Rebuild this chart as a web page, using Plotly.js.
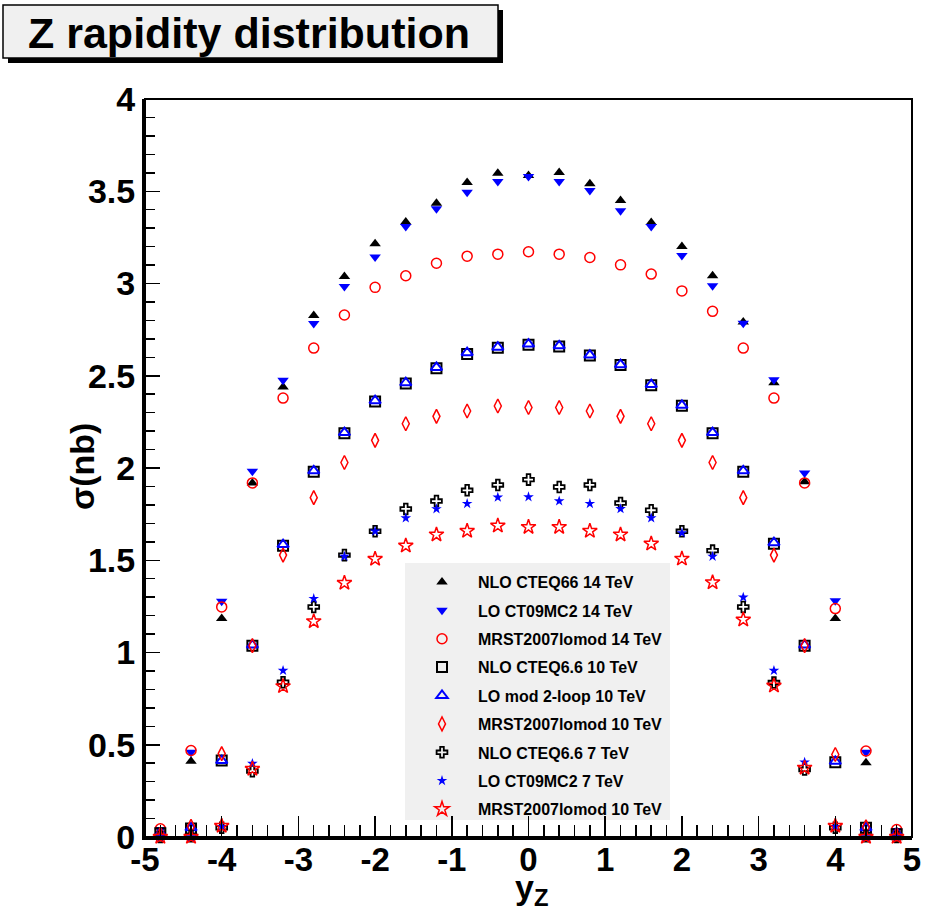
<!DOCTYPE html>
<html>
<head>
<meta charset="utf-8">
<script src="https://cdn.plot.ly/plotly-3.0.1.min.js"></script>
<style>html,body{margin:0;padding:0;background:#fff;}#chart{width:928px;height:917px;}</style>
</head>
<body>
<div id="chart"></div>
<script>
// ---- data ----
const yRapidity = [-4.8,-4.4,-4.0,-3.6,-3.2,-2.8,-2.4,-2.0,-1.6,-1.2,-0.8,-0.4,0,0.4,0.8,1.2,1.6,2.0,2.4,2.8,3.2,3.6,4.0,4.4,4.8];

const nloCteq66_14 = [0.03,0.41,1.184,1.919,2.439,2.827,3.038,3.215,3.333,3.435,3.547,3.598,3.585,3.602,3.540,3.450,3.331,3.201,3.042,2.791,2.462,1.926,1.184,0.402,0.03];
const loCt09mc2_14 = [0.04,0.46,1.278,1.982,2.475,2.783,2.984,3.143,3.309,3.405,3.495,3.553,3.580,3.553,3.504,3.394,3.309,3.152,2.988,2.785,2.478,1.973,1.281,0.46,0.035];
const mrst_14      = [0.045,0.469,1.247,1.919,2.379,2.650,2.829,2.979,3.042,3.110,3.148,3.159,3.172,3.159,3.141,3.101,3.051,2.960,2.849,2.650,2.379,1.919,1.238,0.466,0.04];
const nloCteq66_10 = [0.02,0.046,0.414,1.037,1.579,1.980,2.189,2.361,2.458,2.540,2.618,2.652,2.668,2.659,2.610,2.558,2.449,2.337,2.189,1.980,1.590,1.037,0.405,0.05,0.015];
const loMod2loop_10= [0.02,0.05,0.414,1.040,1.585,1.985,2.192,2.365,2.462,2.545,2.625,2.655,2.672,2.662,2.612,2.560,2.452,2.340,2.192,1.985,1.595,1.040,0.41,0.05,0.02];
const mrst_10      = [0.015,0.058,0.452,1.037,1.528,1.839,2.030,2.150,2.240,2.280,2.309,2.336,2.328,2.328,2.309,2.280,2.240,2.150,2.030,1.839,1.528,1.037,0.447,0.055,0.01];
const nloCteq66_7  = [0.0,0.005,0.05,0.357,0.839,1.247,1.528,1.657,1.778,1.821,1.879,1.908,1.937,1.897,1.908,1.810,1.771,1.657,1.552,1.247,0.837,0.366,0.05,0.005,0.0];
const loCt09mc2_7  = [0.0,0.0,0.055,0.398,0.902,1.292,1.521,1.657,1.729,1.778,1.807,1.841,1.843,1.821,1.807,1.779,1.729,1.648,1.521,1.299,0.902,0.405,0.055,0.0,0.0];
const mrst_7       = [0.0,0.0,0.06,0.369,0.817,1.169,1.377,1.507,1.579,1.639,1.659,1.687,1.680,1.680,1.659,1.639,1.590,1.508,1.380,1.178,0.820,0.375,0.06,0.0,0.0];

const seriesNames = [
  "NLO CTEQ66 14 TeV",
  "LO CT09MC2 14 TeV",
  "MRST2007lomod 14 TeV",
  "NLO CTEQ6.6 10 TeV",
  "LO mod 2-loop 10 TeV",
  "MRST2007lomod 10 TeV",
  "NLO CTEQ6.6 7 TeV",
  "LO CT09MC2 7 TeV",
  "MRST2007lomod 10 TeV"
];
const seriesValues = [nloCteq66_14, loCt09mc2_14, mrst_14, nloCteq66_10, loMod2loop_10, mrst_10, nloCteq66_7, loCt09mc2_7, mrst_7];
const xTickVals = [-5,-4,-3,-2,-1,0,1,2,3,4,5];
const yTickVals = [0,0.5,1,1.5,2,2.5,3,3.5,4];

// ---- styles ----
const markerStyles = [
  {symbol:'triangle-up', color:'#000000', size:10, line:{width:0}},
  {symbol:'triangle-down', color:'#0000ff', size:10, line:{width:0}},
  {symbol:'circle-open', color:'#ff0000', size:10, line:{width:1.5, color:'#ff0000'}},
  {symbol:'square-open', color:'#000000', size:10, line:{width:2, color:'#000000'}},
  {symbol:'triangle-up-open', color:'#0000ff', size:10, line:{width:2, color:'#0000ff'}},
  {symbol:'diamond-tall-open', color:'#ff0000', size:10, line:{width:1.5, color:'#ff0000'}},
  {symbol:'cross-open', color:'#000000', size:9, line:{width:1.8, color:'#000000'}},
  {symbol:'star', color:'#0000ff', size:8, line:{width:0}},
  {symbol:'star-open', color:'#ff0000', size:11, line:{width:1.5, color:'#ff0000'}}
];

const traces = seriesValues.map((vals, i) => ({
  type:'scatter', mode:'markers',
  x: yRapidity, y: vals,
  name: seriesNames[i],
  legendgroup: 'g'+i,
  marker: markerStyles[i],
  cliponaxis: false,
  hoverinfo:'x+y+name'
}));

const L=145, R=16, T=99, B=80;
const W=928-L-R, H=917-T-B;
const px = p => (p-L)/W;
const py = p => (917-B-p)/H;

const font = {family:'"Liberation Sans", Arial, Helvetica, sans-serif', color:'#000000'};

const layout = {
  width:928, height:917,
  margin:{l:L, r:R, t:T, b:B, pad:0},
  paper_bgcolor:'#ffffff', plot_bgcolor:'#ffffff',
  showlegend:true,
  legend:{
    x: px(406), y: py(565), xanchor:'left', yanchor:'top',
    bgcolor:'rgba(0,0,0,0)', borderwidth:0,
    font:{...font, size:16, weight:'bold'},
    tracegroupgap: 4.6, traceorder:'grouped',
    itemwidth: 62
  },
  xaxis:{
    range:[-5,5], tickvals:xTickVals, ticktext:xTickVals.map(String),
    showgrid:false, zeroline:false,
    showline:true, linewidth:3, linecolor:'#000',
    ticks:'inside', ticklen:21, tickwidth:1.5, tickcolor:'#000',
    ticklabelstandoff:-9,
    minor:{dtick:0.2, ticks:'inside', ticklen:12, tickwidth:1.5, tickcolor:'#000', showgrid:false},
    tickfont:{...font, size:33, weight:'bold'},
    fixedrange:true
  },
  yaxis:{
    range:[0,4], tickvals:yTickVals, ticktext:yTickVals.map(String),
    showgrid:false, zeroline:false,
    showline:true, linewidth:3, linecolor:'#000',
    ticks:'inside', ticklen:15, tickwidth:1.5, tickcolor:'#000',
    minor:{dtick:0.1, ticks:'inside', ticklen:10, tickwidth:1.5, tickcolor:'#000', showgrid:false},
    tickfont:{...font, size:34, weight:'bold'},
    fixedrange:true
  },
  shapes:[
    {type:'rect', xref:'paper', yref:'paper', x0:px(405), x1:px(670), y0:py(820), y1:py(563),
     fillcolor:'#f0f0f0', line:{width:0}, layer:'below'},
    {type:'rect', xref:'paper', yref:'paper', x0:0, x1:1, y0:0, y1:1,
     line:{width:2, color:'#000'}, fillcolor:'rgba(0,0,0,0)', layer:'above'},
    {type:'rect', xref:'paper', yref:'paper', x0:px(8), x1:px(503), y0:py(63), y1:py(10),
     fillcolor:'#000000', line:{width:0}},
    {type:'rect', xref:'paper', yref:'paper', x0:px(3), x1:px(498), y0:py(58), y1:py(5),
     fillcolor:'#f0f0f0', line:{width:1.5, color:'#000'}}
  ],
  annotations:[
    {text:'Z rapidity distribution', xref:'paper', yref:'paper', x:px(249), y:py(33),
     xanchor:'center', yanchor:'middle', showarrow:false,
     font:{...font, size:43, weight:'bold'}},
    {text:'σ(nb)', xref:'paper', yref:'paper', x:px(82), y:py(467),
     xanchor:'center', yanchor:'middle', textangle:-90, showarrow:false,
     font:{...font, size:34, weight:'bold'}},
    {text:'y<sub>Z</sub>', xref:'paper', yref:'paper', x:px(531), y:py(866),
     xanchor:'center', yanchor:'top', showarrow:false,
     font:{...font, size:34, weight:'bold'}}
  ]
};

Plotly.newPlot('chart', traces, layout, {displayModeBar:false, staticPlot:true});
</script>
</body>
</html>
